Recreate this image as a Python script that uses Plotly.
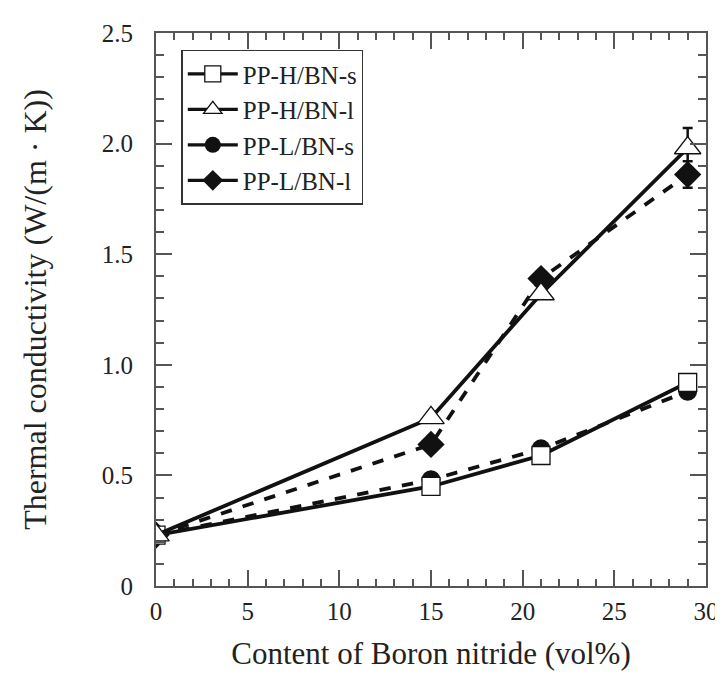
import plotly.graph_objects as go

x_vals = [0, 15, 21, 29]
ph_bns = [0.23, 0.45, 0.59, 0.92]
ph_bnl = [0.23, 0.76, 1.32, 1.98]
pl_bns = [0.23, 0.48, 0.62, 0.88]
pl_bnl = [0.23, 0.64, 1.39, 1.86]
ph_bnl_err = [0, 0, 0, 0.09]
pl_bnl_err = [0, 0, 0, 0.06]

names = ["PP-H/BN-s", "PP-H/BN-l", "PP-L/BN-s", "PP-L/BN-l"]
x_ticks = [0, 5, 10, 15, 20, 25, 30]
y_ticks = [0, 0.5, 1.0, 1.5, 2.0, 2.5]
y_ticktext = ["0", "0.5", "1.0", "1.5", "2.0", "2.5"]

FONT = "Liberation Serif, Times New Roman, serif"
BLACK = "#111111"
AX = "#555555"
TXT = "#222222"

fig = go.Figure()

styles = [
    dict(y=ph_bns, dash="solid", symbol="square-open", size=18, err=None),
    dict(y=ph_bnl, dash="solid", symbol="triangle-up-open", size=23, err=ph_bnl_err),
    dict(y=pl_bns, dash="dash", symbol="circle", size=19, err=None),
    dict(y=pl_bnl, dash="dash", symbol="diamond", size=21, err=pl_bnl_err),
]
order = [2, 3, 0, 1]
for i in order:
    s = styles[i]
    open_marker = "open" in s["symbol"]
    fig.add_trace(go.Scatter(
        x=x_vals, y=s["y"], mode="lines+markers", name=names[i], showlegend=False,
        line=dict(color=BLACK, width=3.8, dash=s["dash"]),
        marker=dict(symbol=s["symbol"].replace("-open", "") if open_marker else s["symbol"],
                    size=s["size"],
                    color="white" if open_marker else BLACK,
                    line=dict(color=BLACK, width=1.3 if open_marker else 0)),
        error_y=dict(type="data", array=s["err"], visible=s["err"] is not None,
                     color=BLACK, thickness=2.5, width=5),
    ))

# legend entries (solid lines as in the reference legend)
for i in range(4):
    s = styles[i]
    open_marker = "open" in s["symbol"]
    fig.add_trace(go.Scatter(
        x=[None], y=[None], mode="lines+markers", name=names[i],
        line=dict(color=BLACK, width=3.2),
        marker=dict(symbol=s["symbol"].replace("-open", "") if open_marker else s["symbol"],
                    size=min(s["size"], 20),
                    color="white" if open_marker else BLACK,
                    line=dict(color=BLACK, width=1.3 if open_marker else 0)),
    ))

axis_common = dict(
    showline=True, linecolor=AX, linewidth=2, mirror="ticks",
    ticks="inside", tickcolor=AX, tickwidth=2, ticklen=16,
    showgrid=False, zeroline=False,
    tickfont=dict(family=FONT, size=25, color=TXT),
)

fig.update_layout(
    width=723, height=674,
    margin=dict(l=148, r=14, t=20, b=96),
    paper_bgcolor="white", plot_bgcolor="white",
    font=dict(family=FONT, color=TXT),
    xaxis=dict(range=[0, 30], tickvals=x_ticks, ticktext=[str(v) for v in x_ticks],
               minor=dict(dtick=1, ticks="inside", ticklen=7, tickcolor=AX, tickwidth=1.5),
               ticklabelstandoff=2,
               title=dict(text="Content of Boron nitride (vol%)",
                          font=dict(family=FONT, size=31, color=TXT), standoff=18),
               **axis_common),
    yaxis=dict(range=[0, 2.5], tickvals=y_ticks, ticktext=y_ticktext,
               minor=dict(dtick=0.1, ticks="inside", ticklen=8, tickcolor=AX, tickwidth=1.5),
               ticklabelstandoff=16,
               title=dict(text="Thermal conductivity (W/(m · K))",
                          font=dict(family=FONT, size=32, color=TXT), standoff=46),
               **axis_common),
    legend=dict(x=0.046, y=0.97, xanchor="left", yanchor="top",
                bgcolor="white", bordercolor="#333333", borderwidth=1.5,
                font=dict(family=FONT, size=25, color=TXT),
                itemwidth=50, tracegroupgap=0),
)

fig.write_html("out.html")
